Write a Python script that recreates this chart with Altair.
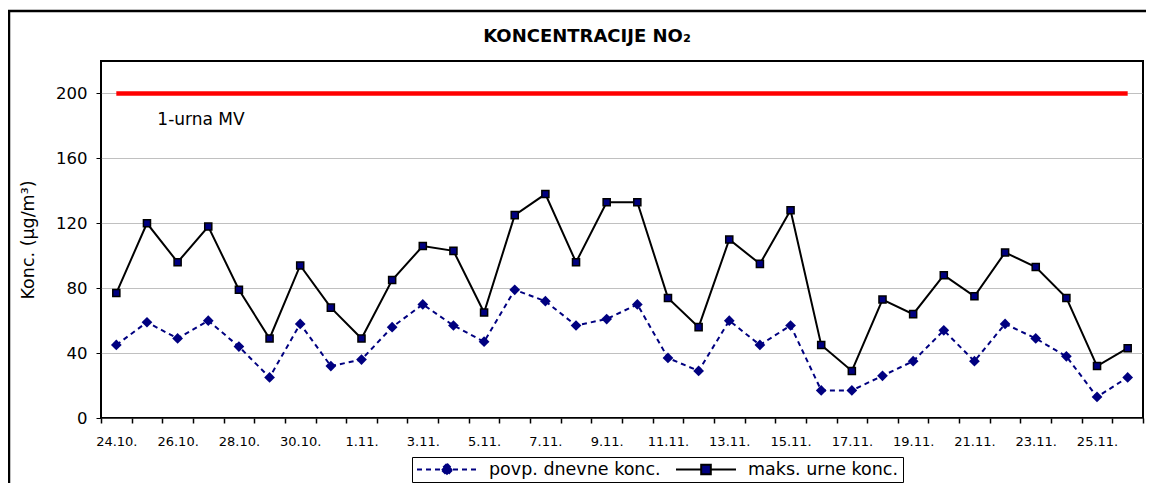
import json
import altair as alt
import pandas as pd

# ---------------- data ----------------
dates = ["24.10.", "25.10.", "26.10.", "27.10.", "28.10.", "29.10.", "30.10.", "31.10.",
         "1.11.", "2.11.", "3.11.", "4.11.", "5.11.", "6.11.", "7.11.", "8.11.", "9.11.",
         "10.11.", "11.11.", "12.11.", "13.11.", "14.11.", "15.11.", "16.11.", "17.11.",
         "18.11.", "19.11.", "20.11.", "21.11.", "22.11.", "23.11.", "24.11.", "25.11.", "26.11."]
series_names = ["povp. dnevne konc.", "maks. urne konc."]
povp = [45, 59, 49, 60, 44, 25, 58, 32, 36, 56, 70, 57, 47, 79, 72, 57, 61,
        70, 37, 29, 60, 45, 57, 17, 17, 26, 35, 54, 35, 58, 49, 38, 13, 25]
maks = [77, 120, 96, 118, 79, 49, 94, 68, 49, 85, 106, 103, 65, 125, 138, 96, 133,
        133, 74, 56, 110, 95, 128, 45, 29, 73, 64, 88, 75, 102, 93, 74, 32, 43]
mv_value = 200
mv_label = "1-urna MV"
y_ticks = [0, 40, 80, 120, 160, 200]
x_labels_shown = dates[::2]

df = pd.DataFrame({
    "datum": dates * 2,
    "serija": [series_names[0]] * len(dates) + [series_names[1]] * len(dates),
    "konc": povp + maks,
})
mv_df = pd.DataFrame({"datum": [dates[0], dates[-1]], "konc": [mv_value, mv_value]})

FONT = "DejaVu Sans"
NAVY = "#000080"

label_expr = "indexof(" + json.dumps(x_labels_shown) + ", datum.value) >= 0 ? datum.value : ''"

x_enc = alt.X(
    "datum:N",
    scale=alt.Scale(type="band", domain=dates, paddingInner=0, paddingOuter=0),
    axis=alt.Axis(
        title=None, labelAngle=0, tickBand="extent", ticks=True, tickSize=5,
        tickColor="black", tickWidth=1.5, domain=False, grid=False,
        labelExpr=label_expr, labelFont=FONT, labelFontSize=13, labelColor="black",
        labelPadding=12, labelOverlap=False,
    ),
)
y_enc = alt.Y(
    "konc:Q",
    scale=alt.Scale(domain=[0, 220], nice=False),
    axis=alt.Axis(
        values=y_ticks, title="Konc. (µg/m³)", grid=True, gridColor="#808080",
        gridDash=[1, 1], gridWidth=1, tickSize=5, tickColor="black", tickWidth=1,
        domain=False, labelFont=FONT, labelFontSize=16.5, labelColor="black",
        labelPadding=9, titleFont=FONT, titleFontSize=17.5, titleFontWeight="normal",
        titleColor="black", titlePadding=18,
    ),
)

base = alt.Chart(df)

line_povp = base.transform_filter(alt.datum.serija == series_names[0]).mark_line(
    color=NAVY, strokeDash=[5, 4], strokeWidth=2
).encode(x=x_enc, y=y_enc)
pts_povp = base.transform_filter(alt.datum.serija == series_names[0]).mark_point(
    shape="diamond", filled=True, color=NAVY, size=115, opacity=1
).encode(x=x_enc, y=y_enc)
line_maks = base.transform_filter(alt.datum.serija == series_names[1]).mark_line(
    color="black", strokeWidth=2
).encode(x=x_enc, y=y_enc)
pts_maks = base.transform_filter(alt.datum.serija == series_names[1]).mark_point(
    shape="square", filled=True, fill=NAVY, stroke="black", strokeWidth=1.5, size=50, opacity=1
).encode(x=x_enc, y=y_enc)

mv_line = alt.Chart(mv_df).mark_line(color="#ff0000", strokeWidth=4.5).encode(x=x_enc, y=y_enc)
mv_text = alt.Chart(mv_df.head(1)).mark_text(
    align="left", baseline="alphabetic", dx=41, dy=32, font=FONT, fontSize=17, color="black"
).encode(x=x_enc, y=y_enc, text=alt.value(mv_label))

# legend (built by Vega-Lite from an explicit domain; the layer itself draws nothing)
path_diamond = "M-1,0H-0.2M0.2,0H1M0,-0.19L0.19,0L0,0.19L-0.19,0Z"
path_square = "M-1,0H-0.16M0.16,0H1M-0.16,-0.16H0.16V0.16H-0.16Z"
leg = alt.Legend(
    title=None, orient="none", legendX=311, legendY=396, direction="horizontal",
    strokeColor="black", fillColor="white", padding=4, labelFont=FONT, labelFontSize=17.5,
    labelColor="black", labelOffset=11, labelLimit=400, columnPadding=14, symbolSize=3600,
    symbolStrokeWidth=2, symbolFillColor=NAVY, symbolOpacity=1, clipHeight=17,
)
legend_layer = base.transform_filter("false").mark_point(filled=True, fill=NAVY, opacity=1).encode(
    shape=alt.Shape("serija:N", scale=alt.Scale(domain=series_names, range=[path_diamond, path_square]), legend=leg),
    stroke=alt.Stroke("serija:N", scale=alt.Scale(domain=series_names, range=[NAVY, "black"]), legend=leg),
    strokeDash=alt.StrokeDash("serija:N", scale=alt.Scale(domain=series_names, range=[[5, 4], [1, 0]]), legend=leg),
)

# outer chart frame (left and top edges; the others lie outside the picture)
frame_data = alt.Data(values=[{}])
frame_left = alt.Chart(frame_data).mark_rule(color="black", strokeWidth=2.5).encode(
    x=alt.value(-92), y=alt.value(-50), y2=alt.value(700)
)
frame_top = alt.Chart(frame_data).mark_rule(color="black", strokeWidth=2.5).encode(
    x=alt.value(-93), x2=alt.value(1300), y=alt.value(-50)
)

chart = alt.layer(
    frame_left, frame_top, mv_line, mv_text, line_povp, line_maks, pts_povp, pts_maks, legend_layer
).resolve_scale(
    shape="independent", stroke="independent", strokeDash="independent"
).properties(
    width=1042, height=357,
    autosize=alt.AutoSizeParams(type="none"),
    padding={"left": 93, "top": 53, "right": 3, "bottom": 65},
    title=alt.TitleParams(
        text="KONCENTRACIJE NO₂", font=FONT, fontSize=18, fontWeight="bold",
        anchor="middle", dx=-35, dy=67, offset=17, baseline="alphabetic", color="black",
    ),
    background="white",
).configure_view(stroke="black", strokeWidth=2)

chart.save("out.html", embed_options={"renderer": "svg", "actions": False})
